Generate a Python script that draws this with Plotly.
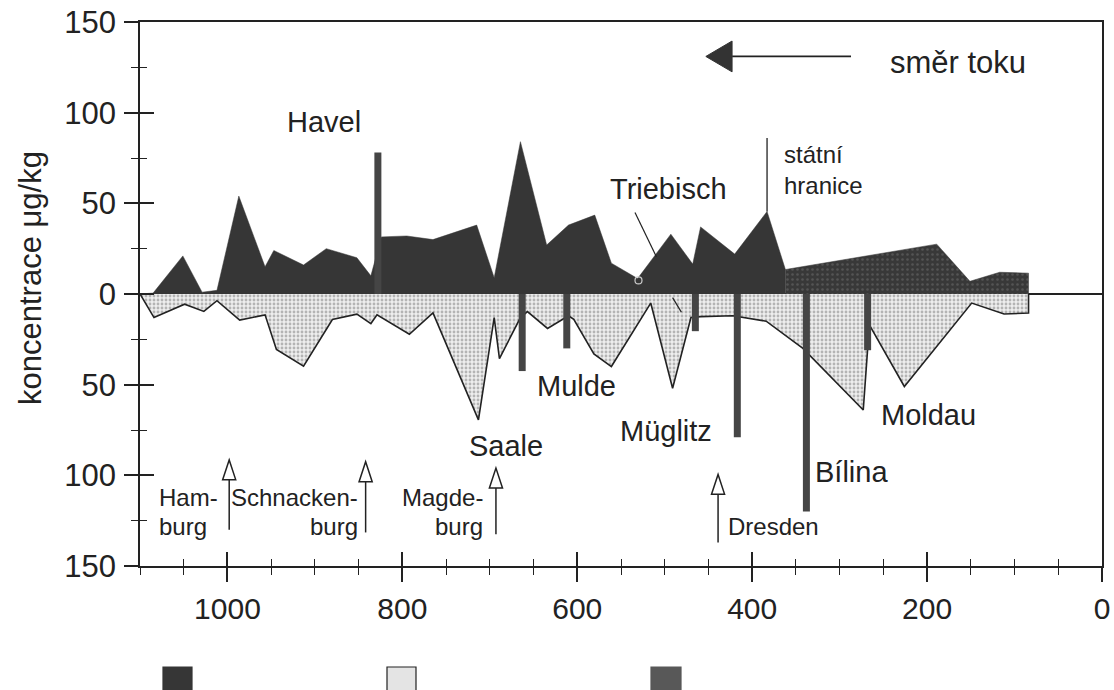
import plotly.graph_objects as go

# ---------------- data ----------------
# river km (axis runs from 1100 on the left to 0 on the right)
up_km = [1100, 1085, 1051, 1029, 1012, 987, 957, 947, 913, 887, 852, 836, 824, 795, 765,
         715, 695, 665, 635, 610, 580, 561, 531, 493, 468, 459, 420, 383, 362, 189, 151,
         117, 84]
up_val = [0, 0.5, 21, 1, 2, 54, 15, 24, 16, 25, 20, 10, 31.5, 32, 30,
          38, 9, 84, 27, 38, 43.5, 17, 8.5, 33, 16.5, 37, 22, 45.5, 13.5, 27.5, 7,
          12, 11.5]

lo_km = [1100, 1084, 1049, 1027, 1012, 986, 957, 944, 913, 880, 852, 836, 829, 792, 765,
         713, 695, 689, 665, 657, 634, 610, 604, 581, 561, 516, 491, 470, 459, 422, 384,
         342, 273, 266, 226, 149, 112, 84]
lo_val = [0, -13, -5.6, -9.6, -3.7, -14.4, -11.5, -30.6, -39.8, -14.1, -11.1, -16.3, -11.5,
          -22.2, -10.4, -69.4, -13, -35.6, -13, -9.7, -19, -12, -14, -33, -40, -5, -52,
          -13, -12.5, -12, -15, -30, -64, -17, -51, -5, -11, -10.5]

# tributary inputs (bars)
bar_km = [828, 663, 612, 465, 417, 338, 268]
bar_val = [78, -42.5, -30, -20.5, -79, -120, -31]

border_km = 383          # státní hranice
border_top = 86

city_lines = [["Ham-", "burg"], ["Schnacken-", "burg"], ["Magde-", "burg"], ["Dresden"]]
city_km = [998, 842, 693, 439]

x_ticks = [1000, 800, 600, 400, 200, 0]
y_ticks = [-150, -100, -50, 0, 50, 100, 150]
y_ticktext = ["150", "100", "50", "0", "50", "100", "150"]

# ---------------- styling / placement ----------------
FONT = "Liberation Sans, Arial, Helvetica, sans-serif"
INK = "#222222"
DARK = "#363636"
XR = [1100, 0]
YR = [-150, 150]

fig = go.Figure()

# upper (positive) area: German part solid, Czech part dotted
split = 362
de_x = [k for k in up_km if k >= split]
de_y = [v for k, v in zip(up_km, up_val) if k >= split]
cz_x = [k for k in up_km if k <= split]
cz_y = [v for k, v in zip(up_km, up_val) if k <= split]

fig.add_trace(go.Scatter(x=de_x + [de_x[-1]], y=de_y + [0], mode="lines", fill="tozeroy",
                         fillcolor=DARK, line=dict(width=0.5, color=DARK),
                         hoverinfo="skip", showlegend=False))
fig.add_trace(go.Scatter(x=cz_x + [cz_x[-1]], y=cz_y + [0], mode="lines", fill="tozeroy",
                         fillpattern=dict(shape=".", bgcolor="#383838", fgcolor="#707070",
                                          size=5, solidity=0.2),
                         line=dict(width=0.5, color=DARK),
                         hoverinfo="skip", showlegend=False))

# lower (negative) area: light dotted with black outline
fig.add_trace(go.Scatter(x=lo_km + [lo_km[-1]], y=lo_val + [0], mode="lines", fill="tozeroy",
                         fillpattern=dict(shape=".", bgcolor="#eeeeee", fgcolor="#7a7a7a",
                                          size=4, solidity=0.4),
                         line=dict(width=1.6, color=INK),
                         hoverinfo="skip", showlegend=False))

# tributary bars as thick vertical strokes
bx, by = [], []
for k, v in zip(bar_km, bar_val):
    bx += [k, k, None]
    by += [0, v, None]
fig.add_trace(go.Scatter(x=bx, y=by, mode="lines", line=dict(width=7, color="#454545"),
                         hoverinfo="skip", showlegend=False))

# state border marker line
peak_at_border = up_val[up_km.index(border_km)]
fig.add_trace(go.Scatter(x=[border_km, border_km], y=[peak_at_border, border_top], mode="lines",
                         line=dict(width=1.3, color=INK), hoverinfo="skip", showlegend=False))

# Triebisch leader + small circle, lower leader line
fig.add_trace(go.Scatter(x=[534, 509.5], y=[45, 20.5], mode="lines",
                         line=dict(width=1.2, color=INK), hoverinfo="skip", showlegend=False))
fig.add_trace(go.Scatter(x=[530], y=[7.5], mode="markers",
                         marker=dict(size=7, color="rgba(0,0,0,0)",
                                     line=dict(width=1.2, color="#cccccc")),
                         hoverinfo="skip", showlegend=False))
fig.add_trace(go.Scatter(x=[491, 481], y=[-2, -10], mode="lines",
                         line=dict(width=1.2, color=INK), hoverinfo="skip", showlegend=False))

# invisible trace for overlay axes (inner halves of crossing ticks)
fig.add_trace(go.Scatter(x=[XR[1]], y=[0], xaxis="x2", yaxis="y2", mode="markers",
                         marker=dict(opacity=0), hoverinfo="skip", showlegend=False))

shapes = []
# city arrows (open triangle heads)
city_tip = [-91.5, -92.5, -96, -99.5]
city_bot = [-130, -131.5, -132.5, -137]
head_h, head_w = 11, 7.5
for k, t, b in zip(city_km, city_tip, city_bot):
    shapes.append(dict(type="line", x0=k, x1=k, y0=b, y1=t - head_h,
                       line=dict(color=INK, width=1.5)))
    shapes.append(dict(type="path",
                       path=f"M {k - head_w},{t - head_h} L {k},{t} L {k + head_w},{t - head_h} Z",
                       fillcolor="white", line=dict(color=INK, width=1.5)))

# flow direction arrow
fy = 131
shapes.append(dict(type="line", x0=287, x1=423, y0=fy, y1=fy, line=dict(color=INK, width=1.8)))
shapes.append(dict(type="path", path=f"M 423,{fy + 8.5} L 453,{fy} L 423,{fy - 8.5} Z",
                   fillcolor="#333333", line=dict(color="#333333", width=1)))

# legend squares (bottom, unlabeled) -- positions given in screen pixels
PL, PT, PR, PB = 140, 22, 1102, 566   # plot area in screen pixels
W, H = 1114, 690
PW, PH = PR - PL, PB - PT
def px_x(p):
    return (p - PL) / PW
def px_y(p):
    return (PB - p) / PH
leg = [(163, 192, DARK, DARK), (387, 416, "#e4e4e4", INK), (651, 681, "#585858", "#585858")]
for x0, x1, fc, lc in leg:
    shapes.append(dict(type="rect", xref="paper", yref="paper",
                       x0=px_x(x0), x1=px_x(x1), y0=px_y(667), y1=px_y(696),
                       fillcolor=fc, line=dict(color=lc, width=1.2), layer="above"))

annotations = []
def lab(text, x, y, size=29, xanchor="center", align="center"):
    annotations.append(dict(text=text, x=x, y=y, xref="x", yref="y", showarrow=False,
                            xanchor=xanchor, yanchor="middle", align=align,
                            font=dict(family=FONT, size=size, color=INK)))

lab("Havel", 890, 95)
lab("Triebisch", 496, 58)
lab("státní<br>hranice", 366, 68.5, size=24, xanchor="left", align="left")
lab("Mulde", 601, -50.5)
lab("Saale", 681, -84)
lab("Müglitz", 498, -75.5)
lab("Moldau", 198, -67)
lab("Bílina", 286, -98)
lab("směr toku", 165, 127.5, size=31)

# city labels: two text rows
row_y = [-112.3, -128.2]
city_anchor = [(1081, "left"), (848, "right"), (705, "right"), (376, "center")]
for lines, (ax_, anc) in zip(city_lines, city_anchor):
    if len(lines) == 1:
        lab(lines[0], ax_, row_y[1], size=24, xanchor=anc, align=anc)
    else:
        for ln, yy in zip(lines, row_y):
            lab(ln, ax_, yy, size=24, xanchor=anc, align=anc)

annotations.append(dict(text="koncentrace μg/kg", textangle=-90, x=px_x(30), y=px_y(278),
                        xref="paper", yref="paper", showarrow=False,
                        xanchor="center", yanchor="middle",
                        font=dict(family=FONT, size=31, color=INK)))

axis_common = dict(showgrid=False, tickcolor=INK, tickwidth=1.5, ticklen=14, automargin=False)

fig.update_layout(
    width=W, height=H,
    margin=dict(l=PL, r=W - PR, t=PT, b=H - PB, pad=0, autoexpand=False),
    paper_bgcolor="white", plot_bgcolor="white",
    font=dict(family=FONT, color=INK),
    xaxis=dict(range=XR, tickmode="array", tickvals=x_ticks, ticks="outside",
               showline=True, linecolor=INK, linewidth=1.6, mirror=True, zeroline=False,
               tickfont=dict(size=30, family=FONT, color=INK), ticklabelstandoff=1,
               ticklabeloverflow="allow",
               minor=dict(tickmode="linear", tick0=0, dtick=50, ticks="outside",
                          ticklen=7, tickwidth=1.3, tickcolor=INK),
               **axis_common),
    xaxis2=dict(range=XR, overlaying="x", anchor="y2", side="bottom", tickmode="array",
                tickvals=x_ticks, ticks="inside", showticklabels=False, showline=False,
                zeroline=False,
                minor=dict(tickmode="linear", tick0=0, dtick=50, ticks="inside",
                           ticklen=7, tickwidth=1.3, tickcolor=INK),
                **axis_common),
    yaxis=dict(range=YR, tickmode="array", tickvals=y_ticks, ticktext=y_ticktext,
               ticks="outside", showline=True, linecolor=INK, linewidth=1.6, mirror=True,
               zeroline=True, zerolinecolor=INK, zerolinewidth=1.5,
               tickfont=dict(size=31, family=FONT, color=INK), ticklabelstandoff=2,
               ticklabeloverflow="allow",
               minor=dict(tickmode="linear", tick0=0, dtick=25, ticks="outside",
                          ticklen=7, tickwidth=1.3, tickcolor=INK),
               **axis_common),
    yaxis2=dict(range=YR, overlaying="y", anchor="x2", side="left", tickmode="array",
                tickvals=y_ticks, ticks="inside", showticklabels=False, showline=False,
                zeroline=False,
                minor=dict(tickmode="linear", tick0=0, dtick=25, ticks="inside",
                           ticklen=7, tickwidth=1.3, tickcolor=INK),
                **axis_common),
    shapes=shapes,
    annotations=annotations,
    showlegend=False,
)

# remove the default page margin so the figure sits exactly in the 1114x690 window
page_fix = ("document.body.style.margin='0';"
            "document.body.style.overflow='hidden';"
            "document.documentElement.style.overflow='hidden';")
fig.write_html("out.html", post_script=page_fix, config={"displayModeBar": False})
